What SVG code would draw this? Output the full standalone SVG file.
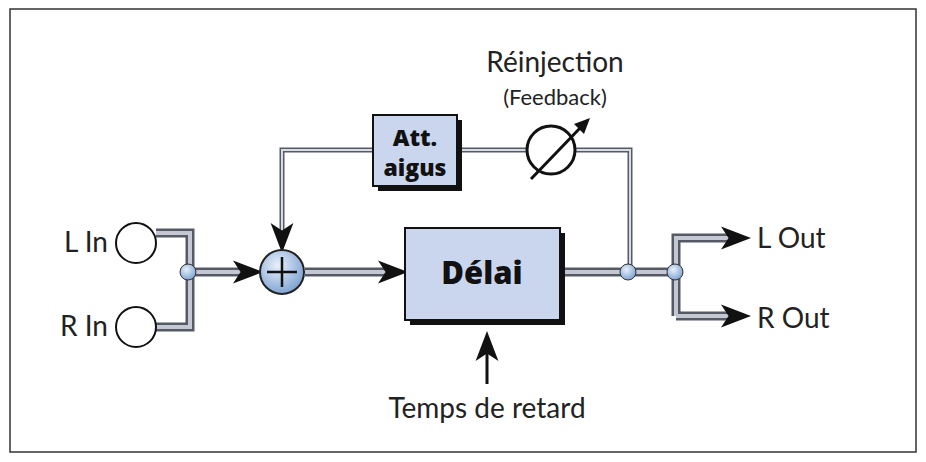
<svg xmlns="http://www.w3.org/2000/svg" width="926" height="462" viewBox="0 0 926 462">
<defs>
<radialGradient id="ball" cx="0.4" cy="0.35" r="0.7"><stop offset="0" stop-color="#e8f0fb"/><stop offset="1" stop-color="#7a9fd0"/></radialGradient>
<marker id="ah" viewBox="0 0 10 10" refX="9" refY="5" markerWidth="7" markerHeight="7" markerUnits="userSpaceOnUse" orient="auto"><path d="M0,0 L10,5 L0,10 L3,5 Z" fill="#111"/></marker>
<marker id="big" viewBox="0 0 10 10" refX="9" refY="5" markerWidth="30" markerHeight="30" markerUnits="userSpaceOnUse" orient="auto"><path d="M0,1.2 L10,5 L0,8.8 L2.5,5 Z" fill="#111"/></marker>
</defs>
<style>
.po{fill:none;stroke:#555a66;stroke-width:9}
.pi{fill:none;stroke:#c4c8d2;stroke-width:4}
.to{fill:none;stroke:#555a66;stroke-width:5}
.ti{fill:none;stroke:#d8dbe2;stroke-width:2}
.ar{fill:none;stroke:none}
.t{font-family:Lato,"Open Sans",sans-serif;fill:#222}
.box{fill:#c9d6ee;stroke:#111;stroke-width:2}
.sh{fill:#111}
.b{font-family:"Open Sans",Lato,sans-serif;font-weight:800;fill:#111;text-anchor:middle}
</style>
<rect x="10" y="9" width="906" height="443" fill="#fff" stroke="#333" stroke-width="1.5"/>
<g id="connectors">
<path class="po" d="M156,233 H190 V327 H156"/><path class="pi" d="M156,233 H190 V327 H156"/>
<path class="po" d="M190,272 H240"/><path class="pi" d="M190,272 H240"/>
<path class="ar" d="M200,272 H260" marker-end="url(#big)"/>
<path class="po" d="M305,272 H385"/><path class="pi" d="M305,272 H385"/>
<path class="ar" d="M330,272 H405" marker-end="url(#big)"/>
<path class="po" d="M560,272 H676 M676,316 V238 H728 M676,316 H728"/><path class="pi" d="M560,272 H676 M676,316 V238 H728 M676,316 H728"/>
<path class="ar" d="M690,238 H748" marker-end="url(#big)"/>
<path class="ar" d="M690,316 H748" marker-end="url(#big)"/>
<path class="to" d="M373,150 H282 V232"/><path class="ti" d="M373,150 H282 V232"/>
<path class="ar" d="M282,200 V250" marker-end="url(#big)"/>
<path class="to" d="M457,150 H630 V272"/><path class="ti" d="M457,150 H630 V272"/>
<path d="M487,384 V350" fill="none" stroke="#111" stroke-width="3"/>
<path class="ar" d="M487,360 V334" marker-end="url(#big)"/>
</g>
<g id="pot"><circle cx="551" cy="150" r="24" fill="#fff" stroke="#111" stroke-width="3"/><path d="M531,179 L582,126" stroke="#111" stroke-width="3"/><path d="M590,118 L574,124 L584,134 Z" fill="#111"/></g>
<g id="junction1"><circle cx="188" cy="272" r="8" fill="url(#ball)" stroke="#333"/></g>
<g id="junction2"><circle cx="628" cy="272" r="8" fill="url(#ball)" stroke="#333"/></g>
<g id="junction3"><circle cx="675" cy="272" r="8" fill="url(#ball)" stroke="#333"/></g>
<g id="lin"><circle cx="136" cy="243" r="20" fill="#fff" stroke="#111" stroke-width="2"/><text class="t" x="108" y="252" font-size="28" text-anchor="end">L In</text></g>
<g id="rin"><circle cx="136" cy="327" r="20" fill="#fff" stroke="#111" stroke-width="2"/><text class="t" x="108" y="336" font-size="28" text-anchor="end">R In</text></g>
<g id="sum"><circle cx="282" cy="272" r="22" fill="url(#ball)" stroke="#222" stroke-width="2"/><path d="M267,272 H297 M282,257 V287" stroke="#111" stroke-width="2.5"/></g>
<g id="att"><rect class="sh" x="378" y="120" width="84" height="71"/><rect class="box" x="373" y="115" width="84" height="71"/><text class="b" x="415" y="146" font-size="23">Att.</text><text class="b" x="415" y="176" font-size="23">aigus</text></g>
<g id="delai"><rect class="sh" x="410" y="233" width="155" height="92"/><rect class="box" x="405" y="228" width="155" height="92"/><text class="b" x="482" y="284" font-size="31">Délai</text></g>
<g id="labels">
<text class="t" x="555" y="72" font-size="28" text-anchor="middle">Réinjection</text>
<text class="t" x="555" y="105" font-size="22" text-anchor="middle">(Feedback)</text>
<text class="t" x="757" y="248" font-size="28">L Out</text>
<text class="t" x="757" y="328" font-size="28">R Out</text>
<text class="t" x="487" y="418" font-size="28" text-anchor="middle">Temps de retard</text>
</g>
</svg>
